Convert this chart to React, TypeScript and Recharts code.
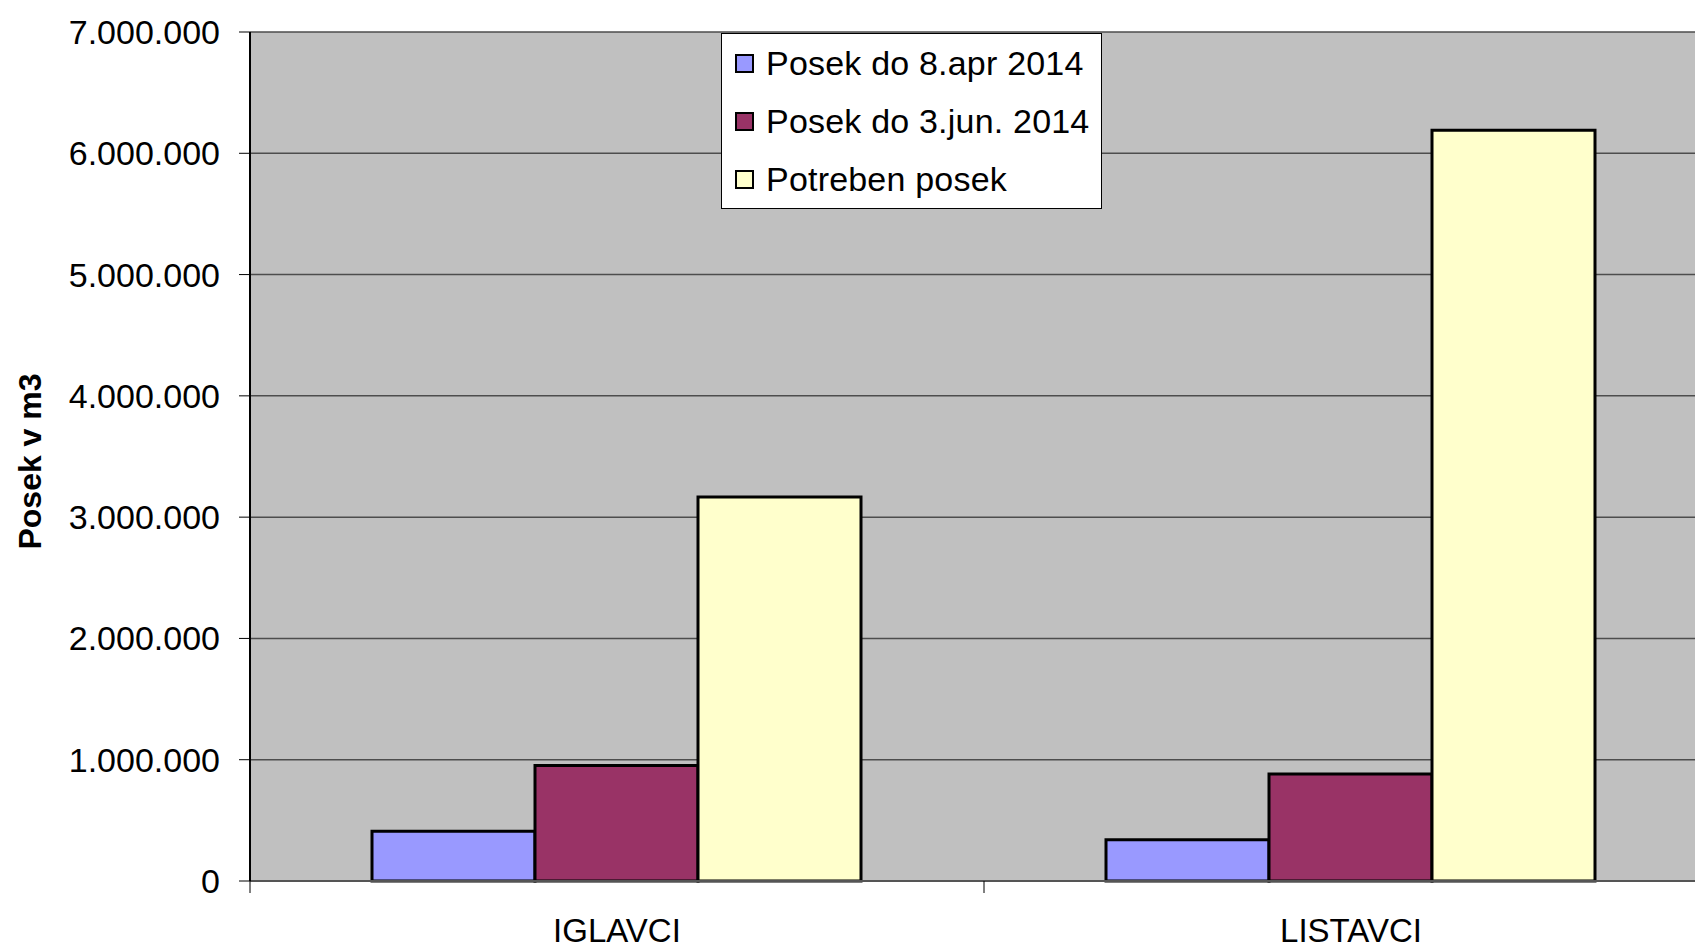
import React from 'react';
import { BarChart, Bar, XAxis, YAxis, CartesianGrid, Legend } from 'recharts';

// Posek (m3) per vrsta drevja
const categories = ['IGLAVCI', 'LISTAVCI'];
const posekApr = [410000, 340000];
const posekJun = [952000, 883000];
const potrebenPosek = [3166000, 6190000];
const yTicks = [0, 1000000, 2000000, 3000000, 4000000, 5000000, 6000000, 7000000];

const seriesNames = ['Posek do 8.apr 2014', 'Posek do 3.jun. 2014', 'Potreben posek'];
const seriesColors = ['#9999ff', '#993366', '#ffffcc'];

const data = categories.map((name, i) => ({
    name,
    apr: posekApr[i],
    jun: posekJun[i],
    potreben: potrebenPosek[i],
}));

const FONT = '"Liberation Sans", Arial, sans-serif';

const formatNum = (v: number) => String(v).replace(/\B(?=(\d{3})+(?!\d))/g, '.');

// category label in the middle, tick mark on the band's left edge
const CategoryTick = (props: any) => {
    const { x, y, payload } = props;
    const half = payload?.offset ?? 0;
    return (
        <g>
            <line x1={x - half} x2={x - half} y1={y} y2={y + 12} stroke="#000" strokeWidth={1} />
            <text x={x} y={y + 38} dy="0.71em" textAnchor="middle" fontSize={33} fontFamily={FONT} fill="#000">
                {payload.value}
            </text>
        </g>
    );
};

const LegendBox = (props: any) => {
    // keep series order (recharts sorts legend items by name)
    const items = [...(props.payload || [])].sort(
        (a: any, b: any) => seriesNames.indexOf(a.value) - seriesNames.indexOf(b.value)
    );
    return (
        <div
            style={{
                width: 381,
                height: 176,
                boxSizing: 'border-box',
                border: '1px solid #000',
                background: '#fff',
                fontFamily: FONT,
                fontSize: 34,
                letterSpacing: 0.2,
                color: '#000',
            }}
        >
            {items.map((item: any) => (
                <div key={item.value} style={{ height: 58.4, display: 'flex', alignItems: 'center' }}>
                    <span
                        style={{
                            display: 'inline-block',
                            width: 19,
                            height: 19,
                            marginLeft: 13,
                            marginRight: 12,
                            boxSizing: 'border-box',
                            border: '2px solid #000',
                            background: item.color,
                        }}
                    />
                    <span style={{ whiteSpace: 'nowrap' }}>{item.value}</span>
                </div>
            ))}
        </div>
    );
};

export default function App() {
    return (
        <div
            style={{
                position: 'absolute',
                left: 0,
                top: 0,
                width: 1695,
                height: 949,
                overflow: 'hidden',
                background: '#fff',
            }}
        >
            <BarChart
                width={1730}
                height={949}
                data={data}
                margin={{ top: 32, right: 12, left: 0, bottom: 0 }}
                barCategoryGap={122}
                barGap={0}
            >
                <CartesianGrid vertical={false} fill="#c0c0c0" stroke="#4d4d4d" strokeWidth={1.5} />
                <XAxis
                    dataKey="name"
                    height={68}
                    tickLine={false}
                    tickSize={0}
                    tickMargin={0}
                    axisLine={{ stroke: '#555', strokeWidth: 2 }}
                    tick={<CategoryTick />}
                    interval={0}
                />
                <YAxis
                    width={250}
                    domain={[0, 7000000]}
                    ticks={yTicks}
                    interval={0}
                    tickFormatter={formatNum}
                    tickSize={11}
                    tickMargin={19}
                    tickLine={{ stroke: '#000' }}
                    axisLine={{ stroke: '#000', strokeWidth: 2 }}
                    tick={{ fontSize: 34, fontFamily: FONT, fill: '#000' }}
                    label={{
                        content: (p: any) => {
                            const vb = p.viewBox || {};
                            const cy = (vb.y ?? 0) + (vb.height ?? 0) / 2 + 5;
                            return (
                                <text
                                    x={30}
                                    y={cy}
                                    transform={`rotate(-90, 30, ${cy})`}
                                    textAnchor="middle"
                                    dominantBaseline="central"
                                    fontSize={32}
                                    fontWeight="bold"
                                    fontFamily={FONT}
                                    fill="#000"
                                >
                                    Posek v m3
                                </text>
                            );
                        },
                    }}
                />
                <Legend
                    layout="vertical"
                    align="center"
                    verticalAlign="middle"
                    content={<LegendBox />}
                    wrapperStyle={{ left: 721, top: 33, width: 381, height: 176 }}
                />
                <Bar dataKey="apr" name={seriesNames[0]} fill={seriesColors[0]} stroke="#000" strokeWidth={3} isAnimationActive={false} />
                <Bar dataKey="jun" name={seriesNames[1]} fill={seriesColors[1]} stroke="#000" strokeWidth={3} isAnimationActive={false} />
                <Bar dataKey="potreben" name={seriesNames[2]} fill={seriesColors[2]} stroke="#000" strokeWidth={3} isAnimationActive={false} />
            </BarChart>
        </div>
    );
}
